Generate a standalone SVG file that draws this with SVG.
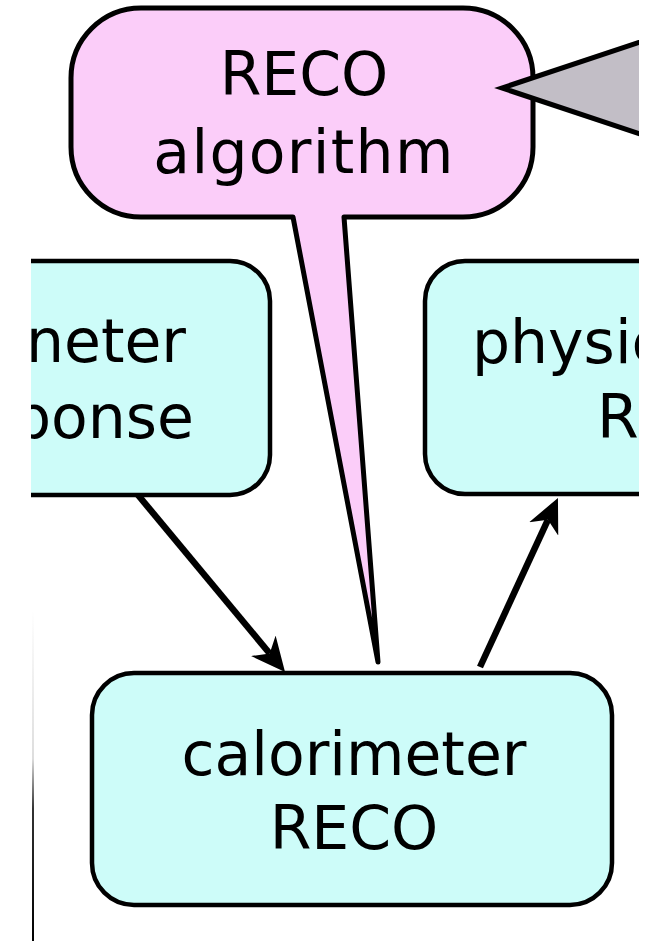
<svg xmlns="http://www.w3.org/2000/svg" width="651" height="941" viewBox="0 0 651 941">
  <defs>
    <style>
      .lbl { font-family: "DejaVu Sans", Verdana, sans-serif; font-size: 60px; fill: #000; }
      .mid { text-anchor: middle; }
      .end { text-anchor: end; }
      .box { fill: #cdfcf9; stroke: #000; stroke-width: 4.5; }
      .callout { fill: #fbcdf9; stroke: #000; stroke-width: 5; stroke-linejoin: round; }
      .pointer { fill: #c2bec6; stroke: #000; stroke-width: 5; stroke-linejoin: miter; }
      .edge { fill: none; stroke: #000; stroke-width: 6.5; }
    </style>
    <clipPath id="view">
      <rect x="31" y="0" width="608" height="941"/>
    </clipPath>
    <marker id="arrow" markerUnits="userSpaceOnUse" viewBox="0 0 34 32" markerWidth="34" markerHeight="32" refX="10" refY="16" orient="auto">
      <path d="M0,0 L34,16 L0,32 L10,16 Z" fill="#000"/>
    </marker>
    <linearGradient id="fade" gradientUnits="userSpaceOnUse" x1="0" y1="610" x2="0" y2="941">
      <stop offset="0" stop-color="#fff"/>
      <stop offset="0.45" stop-color="#ddd"/>
      <stop offset="0.6" stop-color="#333"/>
      <stop offset="1" stop-color="#000"/>
    </linearGradient>
  </defs>
  <rect x="0" y="0" width="651" height="941" fill="#fff"/>
  <g clip-path="url(#view)">
    <g id="connectors">
      <line class="edge" x1="138" y1="495" x2="269.7" y2="653.5" marker-end="url(#arrow)"/>
      <line class="edge" x1="480" y1="667" x2="547.9" y2="519.8" marker-end="url(#arrow)"/>
    </g>
    <g id="node-calorimeter-response">
      <rect class="box" x="-120" y="261" width="390" height="234" rx="40"/>
      <text class="lbl end" x="186" y="362">neter</text>
      <text class="lbl end" x="194" y="438">ponse</text>
    </g>
    <g id="node-physics-reco">
      <rect class="box" x="425" y="261" width="320" height="233" rx="40"/>
      <text class="lbl" x="472" y="363">physic</text>
      <text class="lbl" x="597" y="438">R</text>
    </g>
    <g id="node-calorimeter-reco">
      <rect class="box" x="92" y="673" width="520" height="232" rx="42"/>
      <text class="lbl mid" x="354" y="775">calorimeter</text>
      <text class="lbl mid" x="354" y="849">RECO</text>
    </g>
    <g id="node-reco-algorithm">
      <path class="callout" d="M141,8 H463 A70,70 0 0 1 533,78 V147 A70,70 0 0 1 463,217 H344 L378,662 L293,217 H141 A70,70 0 0 1 71,147 V78 A70,70 0 0 1 141,8 Z"/>
      <text class="lbl mid" x="304" y="95">RECO</text>
      <text class="lbl mid" x="304" y="173" letter-spacing="1.3">algorithm</text>
    </g>
    <g id="pointer">
      <polygon class="pointer" points="670,32 502,88 670,144"/>
    </g>
    <g id="edge-fragment">
      <line x1="33" y1="610" x2="33" y2="941" stroke="url(#fade)" stroke-width="2"/>
    </g>
  </g>
</svg>
